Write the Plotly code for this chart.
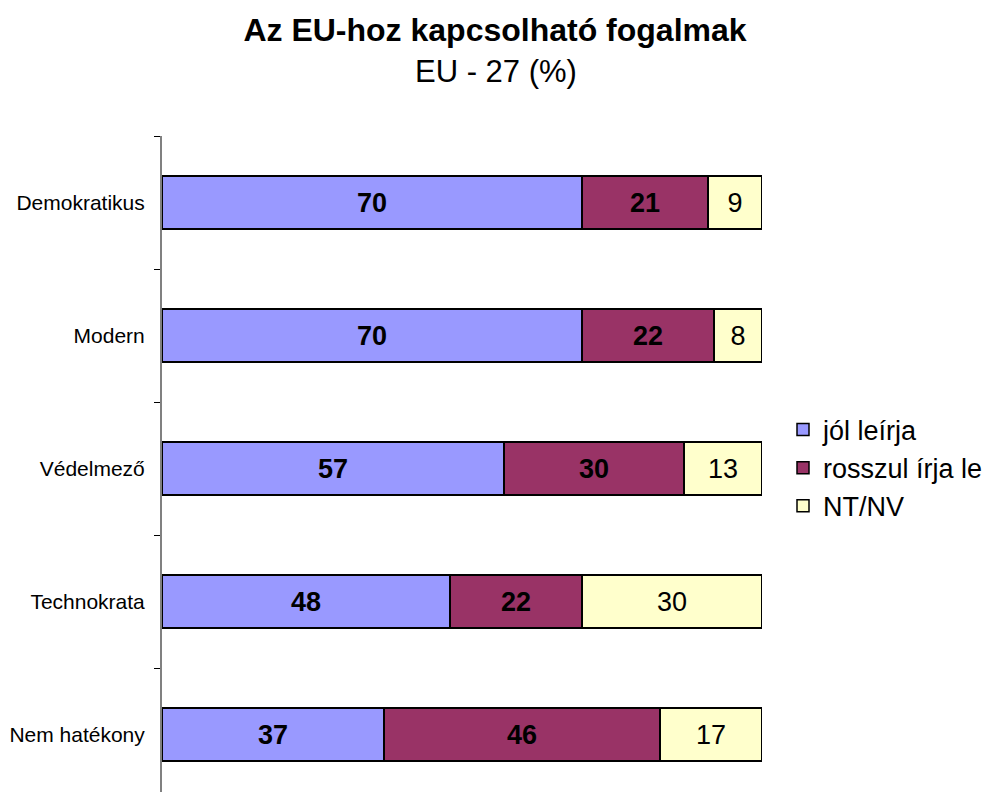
import plotly.graph_objects as go

categories = ["Demokratikus", "Modern", "Védelmező", "Technokrata", "Nem hatékony"]
jol = [70, 70, 57, 48, 37]
rosszul = [21, 22, 30, 22, 46]
ntnv = [9, 8, 13, 30, 17]
series_names = ["jól leírja", "rosszul írja le", "NT/NV"]
colors = ["#9999FF", "#993366", "#FFFFCC"]

W, H = 983, 784
ML, MT = 154, 128
PW = 600
PH = H - MT

fig = go.Figure()
for name, vals, col, bold in zip(series_names, [jol, rosszul, ntnv], colors, [True, True, False]):
    fig.add_trace(go.Bar(
        y=categories, x=vals, orientation="h", name=name, legendgroup=name,
        marker=dict(color=col, line=dict(color="black", width=1.5)),
        width=0.4,
        text=vals,
        texttemplate="<b>%{x}</b>" if bold else "%{x}",
        textposition="inside", insidetextanchor="middle", textangle=0,
        constraintext="none",
        textfont=dict(size=27, color="black", family="Liberation Sans, Arial"),
        hoverinfo="skip",
    ))

fig.update_layout(
    barmode="stack",
    width=W, height=H,
    margin=dict(l=ML, r=W - ML - PW, t=MT, b=0, autoexpand=False),
    plot_bgcolor="white", paper_bgcolor="white",
    font=dict(family="Liberation Sans, Arial", color="black"),
    title=dict(text="<b>Az EU-hoz kapcsolható fogalmak</b>", x=(495 - 8) / W, xref="container",
               y=1 - 22 / H, yref="container", xanchor="center", yanchor="middle",
               font=dict(size=32, color="black")),
    showlegend=True,
    legend=dict(x=(775 - ML) / PW, xanchor="left", y=(H - 460) / PH, yanchor="middle",
                font=dict(size=27), traceorder="normal", tracegroupgap=3,
                bgcolor="rgba(0,0,0,0)"),
    annotations=[dict(text="EU - 27 (%)", x=(496 - 8 - ML) / PW, xref="paper",
                      y=1 + (MT - 64) / PH,
                      yref="paper", xanchor="center", yanchor="middle", showarrow=False,
                      font=dict(size=31, color="black"))],
)

fig.update_xaxes(range=[0, 100], showgrid=False, showline=False, zeroline=False,
                 showticklabels=False, ticks="")
fig.update_yaxes(type="category", categoryorder="array", categoryarray=categories,
                 range=[4.5 + (PH - 665) / 133, -0.5],
                 showline=True, linecolor="#808080", linewidth=2,
                 ticks="outside", ticklen=6, tickcolor="black", tickwidth=1,
                 tickson="boundaries", showgrid=False, zeroline=False,
                 ticklabelstandoff=11,
                 tickfont=dict(size=21, color="black"))

fig.write_html("out.html")
